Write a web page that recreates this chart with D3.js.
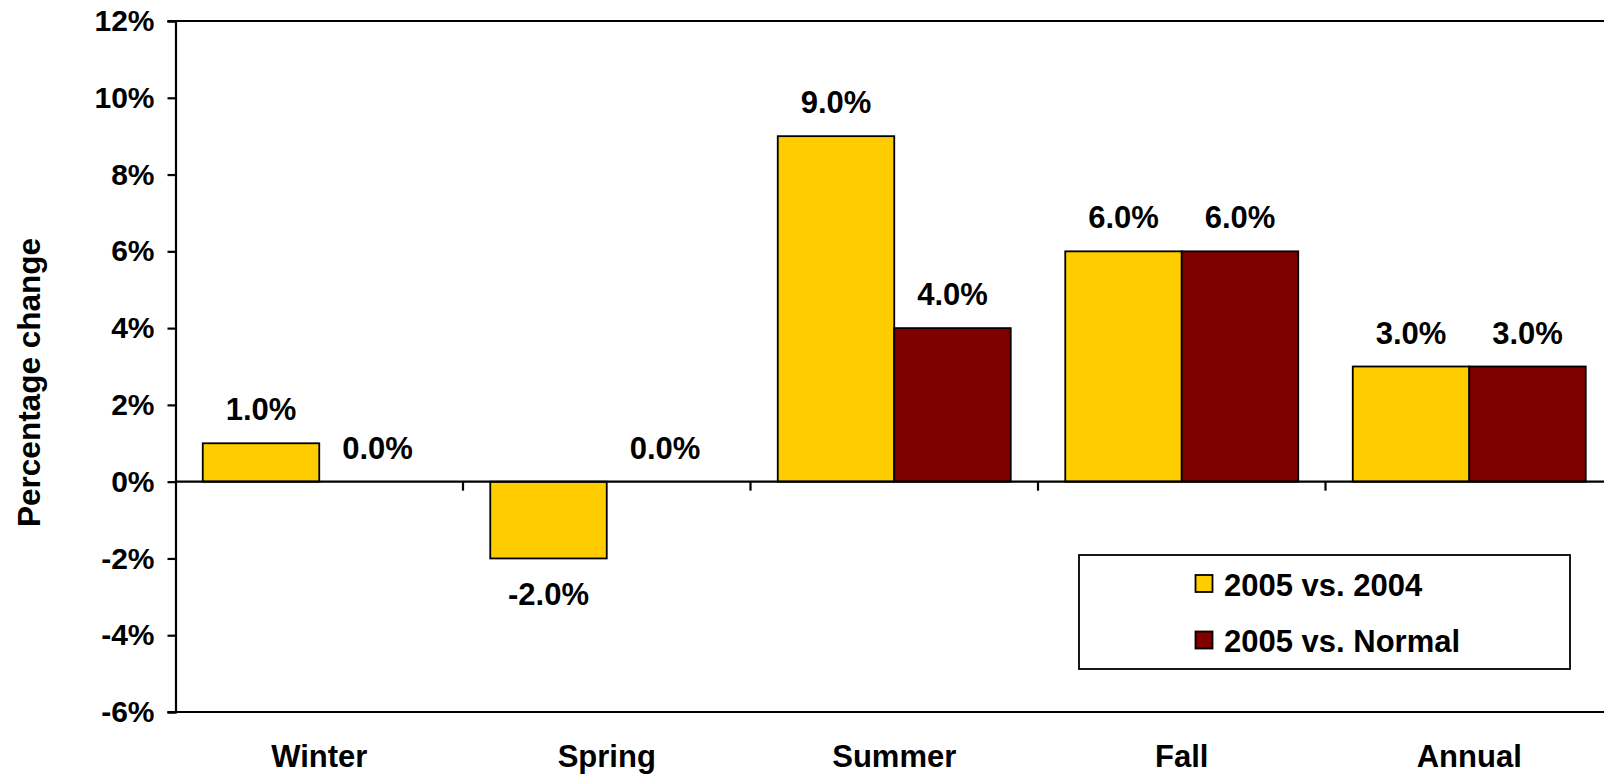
<!DOCTYPE html>
<html>
<head>
<meta charset="utf-8">
<script src="https://cdn.jsdelivr.net/npm/d3@7"></script>
<style>
  html, body { margin: 0; padding: 0; background: #fff; overflow: hidden; }
  svg { display: block; font-family: "Liberation Sans", Arial, sans-serif; font-weight: bold; }
</style>
</head>
<body>
<svg id="chart" width="1604" height="774"></svg>
<script>
// Seasonal percentage change, two comparisons
const categories = ["Winter", "Spring", "Summer", "Fall", "Annual"];
const seriesNames = ["2005 vs. 2004", "2005 vs. Normal"];
const vs2004 = [1.0, -2.0, 9.0, 6.0, 3.0];
const vsNormal = [0.0, 0.0, 4.0, 6.0, 3.0];
const yTicks = [-6, -4, -2, 0, 2, 4, 6, 8, 10, 12];
const seriesColors = ["#FFCC00", "#800000"];

const seriesValues = [vs2004, vsNormal];
const svg = d3.select("#chart");

const plotLeft = 175.5, plotTop = 21, plotBottom = 712;
const band = 287.5;

const x = d3.scaleBand()
  .domain(categories)
  .range([plotLeft, plotLeft + band * categories.length])
  .paddingInner(0).paddingOuter(0);

const xs = d3.scaleBand()
  .domain(seriesNames)
  .range([0, x.bandwidth()])
  .paddingInner(0).paddingOuter(0.234);

const y = d3.scaleLinear().domain([-6, 12]).range([plotBottom, plotTop]);

const color = d3.scaleOrdinal().domain(seriesNames).range(seriesColors);

// Plot frame: top and bottom lines
svg.append("line")
  .attr("x1", plotLeft - 8).attr("x2", 1620)
  .attr("y1", y(12)).attr("y2", y(12))
  .attr("stroke", "#000").attr("stroke-width", 2.2);
svg.append("line")
  .attr("x1", plotLeft - 8).attr("x2", 1620)
  .attr("y1", y(-6)).attr("y2", y(-6))
  .attr("stroke", "#000").attr("stroke-width", 2.2);

// Y axis
const yAxis = svg.append("g")
  .attr("transform", `translate(${plotLeft},0)`)
  .call(d3.axisLeft(y).tickValues(yTicks).tickSize(8).tickPadding(13)
    .tickFormat(d => d + "%"));
yAxis.select(".domain").attr("stroke", "#000").attr("stroke-width", 2.2);
yAxis.selectAll(".tick line").attr("stroke", "#000").attr("stroke-width", 2.2);
yAxis.selectAll(".tick text")
  .attr("font-size", 30).attr("font-weight", "bold")
  .attr("font-family", "'Liberation Sans', Arial, sans-serif")
  .attr("fill", "#000");

// Y axis title
svg.append("text")
  .attr("transform", `translate(40,${(245 + 520) / 2}) rotate(-90)`)
  .attr("text-anchor", "middle")
  .attr("font-size", 31.5)
  .text("Percentage change");

// Bars
const rows = categories.map((c, i) => ({
  cat: c,
  vals: seriesNames.map((s, j) => ({ series: s, value: seriesValues[j][i] }))
}));

const groups = svg.append("g").selectAll("g")
  .data(rows).join("g")
  .attr("transform", d => `translate(${x(d.cat)},0)`);

groups.selectAll("rect")
  .data(d => d.vals).join("rect")
  .attr("x", d => xs(d.series))
  .attr("width", xs.bandwidth())
  .attr("y", d => y(Math.max(0, d.value)))
  .attr("height", d => Math.abs(y(d.value) - y(0)))
  .attr("fill", d => color(d.series))
  .attr("stroke", "#000")
  .attr("stroke-width", d => d.value === 0 ? 0 : 1.8);

// Value labels
groups.selectAll("text")
  .data(d => d.vals).join("text")
  .attr("x", d => xs(d.series) + xs.bandwidth() / 2)
  .attr("y", d => d.value >= 0 ? y(d.value) - 23 : y(d.value) + 47)
  .attr("text-anchor", "middle")
  .attr("font-size", 31)
  .text(d => d.value.toFixed(1) + "%");

// Zero baseline with category separators
svg.append("line")
  .attr("x1", plotLeft).attr("x2", 1620)
  .attr("y1", y(0)).attr("y2", y(0))
  .attr("stroke", "#000").attr("stroke-width", 2.2);
svg.append("g").selectAll("line")
  .data(categories.slice(1)).join("line")
  .attr("x1", d => x(d)).attr("x2", d => x(d))
  .attr("y1", y(0)).attr("y2", y(0) + 9)
  .attr("stroke", "#000").attr("stroke-width", 2.2);

// Category labels
svg.append("g").selectAll("text")
  .data(categories).join("text")
  .attr("x", d => x(d) + x.bandwidth() / 2)
  .attr("y", 767)
  .attr("text-anchor", "middle")
  .attr("font-size", 31)
  .text(d => d);

// Legend
const legend = svg.append("g");
legend.append("rect")
  .attr("x", 1079).attr("y", 555).attr("width", 491).attr("height", 114)
  .attr("fill", "#fff").attr("stroke", "#000").attr("stroke-width", 1.8);
const items = legend.selectAll("g.item")
  .data(seriesNames).join("g")
  .attr("class", "item")
  .attr("transform", (d, i) => `translate(0,${i * 56.5})`);
items.append("rect")
  .attr("x", 1195.5).attr("y", 575).attr("width", 17).attr("height", 17)
  .attr("fill", d => color(d)).attr("stroke", "#000").attr("stroke-width", 1.8);
items.append("text")
  .attr("x", 1224).attr("y", 595.5)
  .attr("font-size", 31)
  .text(d => d);
</script>
</body>
</html>
